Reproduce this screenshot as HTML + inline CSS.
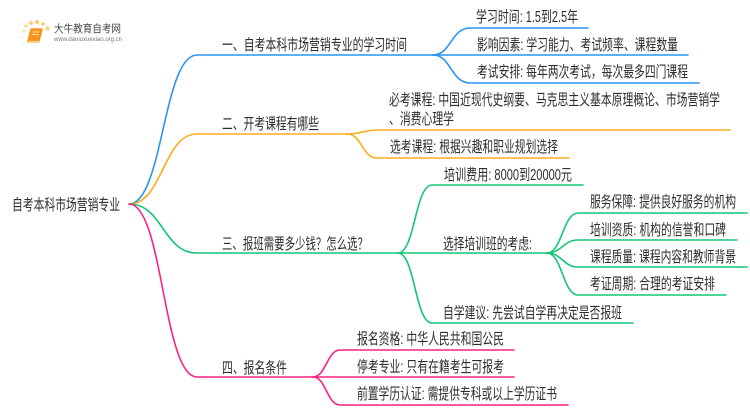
<!DOCTYPE html>
<html>
<head>
<meta charset="utf-8">
<style>
html,body{margin:0;padding:0;background:#fff;width:750px;height:410px;overflow:hidden}
svg{display:block}
text{font-family:"Liberation Sans","Noto Sans CJK SC",sans-serif;fill:#2e2e2e;font-size:15.500px}
path{fill:none;stroke-width:1.6;stroke-linecap:round}
.b path{stroke:#2a93f5}
.o path{stroke:#fbad1c}
.g path{stroke:#14c574}
.p path{stroke:#fb2180}
</style>
</head>
<body>
<svg width="750" height="410" viewBox="0 0 750 410" xmlns="http://www.w3.org/2000/svg">
<!-- Logo -->
<g>
<circle cx="24" cy="31" r="1.5" fill="#fde3a8"/>
<circle cx="22" cy="37" r="1.2" fill="#fde9bd"/>
<circle cx="26" cy="26" r="1.7" fill="#fbd98c"/>
<circle cx="31" cy="23" r="2" fill="#fbd17a"/>
<circle cx="37" cy="22" r="2" fill="#fbcb66"/>
<circle cx="43" cy="24" r="1.8" fill="#fbcb66"/>
<circle cx="47.500" cy="28.500" r="2.200" fill="#fbd17a"/>
<circle cx="23" cy="43" r="1" fill="#fdeecb"/>
<path d="M31 29 L42 29 L39 41 L28 41 Z" style="fill:#f7941d;stroke:#f7941d;stroke-width:1.500;stroke-linejoin:round"/>
<path d="M28 41 L39 41 L38.500 42.500 L27.500 42.500 Z" style="fill:#fde3a8;stroke:#f7a733;stroke-width:.6"/>
<path d="M33 32 L39 32 M32.500 34.500 L38.500 34.500" style="stroke:#fde3a8;stroke-width:.9"/>
<text x="54" y="32" textLength="67" lengthAdjust="spacingAndGlyphs" style="font-size:10.500px;fill:#444">大牛教育自考网</text>
<path d="M54 33.500 L121 33.500" style="stroke:#ddd;stroke-width:.6"/>
<text x="54" y="41" textLength="68" lengthAdjust="spacingAndGlyphs" style="font-size:6.500px;fill:#777">www.daniuxuexiao.org.cn</text>
</g>

<!-- Blue -->
<g class="b">
<path d="M129 204 C163 204 163 55 197 55 L433 55"/>
<path d="M433 55 C451 55 451 28 470 28 L588 28"/>
<path d="M433 55 L688 55"/>
<path d="M433 55 C451 55 451 83 470 83 L699 83"/>
</g>
<!-- Orange -->
<g class="o">
<path d="M129 204 C163 204 163 134 197 134 L347 134"/>
<path d="M347 134 C362 134 362 130 380 130 L730 130"/>
<path d="M347 134 C362 134 362 158 377 158 L569 158"/>
</g>
<!-- Green -->
<g class="g">
<path d="M129 204 C163 204 163 253 197 253 L398 253"/>
<path d="M398 253 C415 253 415 185 432 185 L583 185"/>
<path d="M398 253 L547 253"/>
<path d="M398 253 C415 253 415 323 432 323 L633 323"/>
<path d="M547 253 C562 253 563 213 578 213 L747 213"/>
<path d="M547 253 C562 253 563 240 578 240 L737 240"/>
<path d="M547 253 C562 253 563 267 578 267 L747 267"/>
<path d="M547 253 C562 253 563 295 578 295 L726 295"/>
</g>
<!-- Pink -->
<g class="p">
<path d="M129 204 C163 204 163 377 197 377 L313 377"/>
<path d="M313 377 C326 377 327 350 340 350 L514 350"/>
<path d="M313 377 L514 377"/>
<path d="M313 377 C326 377 327 405 340 405 L568 405"/>
</g>

<!-- Labels -->
<text x="12" y="210" textLength="108" lengthAdjust="spacingAndGlyphs">自考本科市场营销专业</text>

<text x="222" y="50" textLength="185" lengthAdjust="spacingAndGlyphs">一、自考本科市场营销专业的学习时间</text>
<text x="222" y="129" textLength="97" lengthAdjust="spacingAndGlyphs">二、开考课程有哪些</text>
<text x="222" y="249" textLength="146" lengthAdjust="spacingAndGlyphs">三、报班需要多少钱？怎么选？</text>
<text x="222" y="373" textLength="65" lengthAdjust="spacingAndGlyphs">四、报名条件</text>

<text x="476" y="22" textLength="102" lengthAdjust="spacingAndGlyphs">学习时间: 1.5到2.5年</text>
<text x="477" y="50" textLength="201" lengthAdjust="spacingAndGlyphs">影响因素: 学习能力、考试频率、课程数量</text>
<text x="477" y="77" textLength="211" lengthAdjust="spacingAndGlyphs">考试安排: 每年两次考试，每次最多四门课程</text>

<text x="389" y="105" textLength="331" lengthAdjust="spacingAndGlyphs">必考课程: 中国近现代史纲要、马克思主义基本原理概论、市场营销学</text>
<text x="389" y="124" textLength="65" lengthAdjust="spacingAndGlyphs">、消费心理学</text>
<text x="390" y="152" textLength="168" lengthAdjust="spacingAndGlyphs">选考课程: 根据兴趣和职业规划选择</text>

<text x="444" y="180" textLength="128" lengthAdjust="spacingAndGlyphs">培训费用: 8000到20000元</text>
<text x="443" y="249" textLength="89" lengthAdjust="spacingAndGlyphs">选择培训班的考虑:</text>
<text x="443" y="318" textLength="179" lengthAdjust="spacingAndGlyphs">自学建议: 先尝试自学再决定是否报班</text>

<text x="590" y="207" textLength="146" lengthAdjust="spacingAndGlyphs">服务保障: 提供良好服务的机构</text>
<text x="590" y="235" textLength="136" lengthAdjust="spacingAndGlyphs">培训资质: 机构的信誉和口碑</text>
<text x="590" y="262" textLength="146" lengthAdjust="spacingAndGlyphs">课程质量: 课程内容和教师背景</text>
<text x="590" y="289" textLength="125" lengthAdjust="spacingAndGlyphs">考证周期: 合理的考证安排</text>

<text x="357" y="344" textLength="147" lengthAdjust="spacingAndGlyphs">报名资格: 中华人民共和国公民</text>
<text x="357" y="372" textLength="147" lengthAdjust="spacingAndGlyphs">停考专业: 只有在籍考生可报考</text>
<text x="357" y="399" textLength="200" lengthAdjust="spacingAndGlyphs">前置学历认证: 需提供专科或以上学历证书</text>
</svg>
</body>
</html>
